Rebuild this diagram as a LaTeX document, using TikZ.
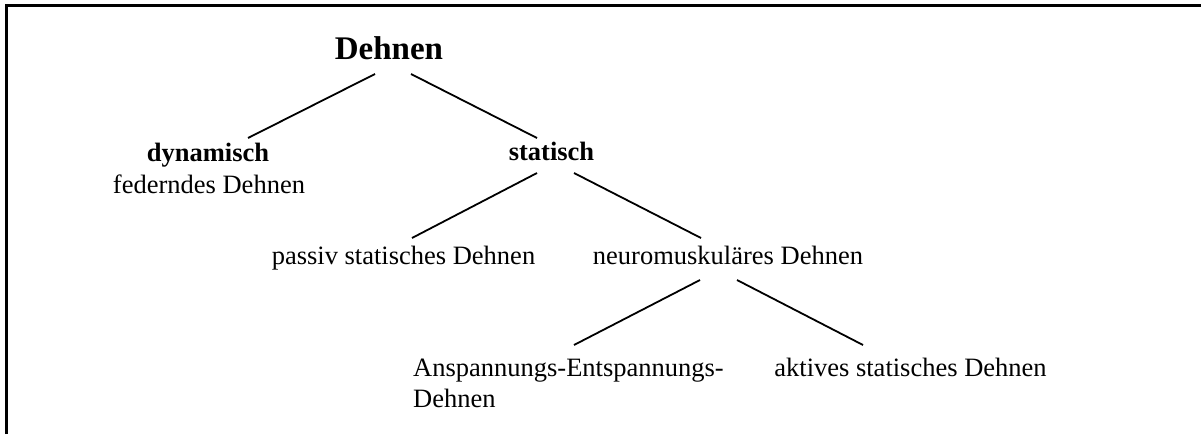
\documentclass[tikz,border=0pt]{standalone}
\usepackage{fontspec}
\setmainfont{Liberation Serif}
\begin{document}
\begin{tikzpicture}[x=1pt,y=-1pt,
  lbl/.style={inner sep=0pt, anchor=base, font=\fontsize{26.5}{31.6}\selectfont},
  blbl/.style={lbl, font=\fontsize{26.5}{31.6}\selectfont\bfseries},
  conn/.style={line width=1.8pt}]
\useasboundingbox (0,0) rectangle (1201,434);
\draw[line width=2.2pt] (6.5,434) -- (6.5,5.5) -- (1201,5.5);

\node[blbl, font=\fontsize{33}{38}\selectfont\bfseries] (root) at (389,59) {Dehnen};
\node[blbl] (dyn) at (208,161.5) {dynamisch};
\node[lbl] (dynsub) at (209,193) {federndes Dehnen};
\node[blbl] (stat) at (551.5,160) {statisch};
\node[lbl] (passiv) at (403.5,264) {passiv statisches Dehnen};
\node[lbl] (neuro) at (728,264) {neuromuskuläres Dehnen};
\node[lbl, anchor=base west] (ansp) at (413,376) {Anspannungs-Entspannungs-};
\node[lbl, anchor=base west] (anspsub) at (413,407) {Dehnen};
\node[lbl] (aktiv) at (910.5,376) {aktives statisches Dehnen};

\draw[conn] ([shift={(-14,15)}]root.base) -- ([shift={(40,-23.5)}]dyn.base);
\draw[conn] ([shift={(22,15)}]root.base) -- ([shift={(-14.5,-22)}]stat.base);
\draw[conn] ([shift={(-14.5,13)}]stat.base) -- ([shift={(8.5,-26)}]passiv.base);
\draw[conn] ([shift={(22.5,13)}]stat.base) -- ([shift={(-27,-26)}]neuro.base);
\draw[conn] ([shift={(-28,16)}]neuro.base) -- ([shift={(161,-31)}]ansp.base west);
\draw[conn] ([shift={(9,16)}]neuro.base) -- ([shift={(-47.5,-31)}]aktiv.base);
\end{tikzpicture}
\end{document}
